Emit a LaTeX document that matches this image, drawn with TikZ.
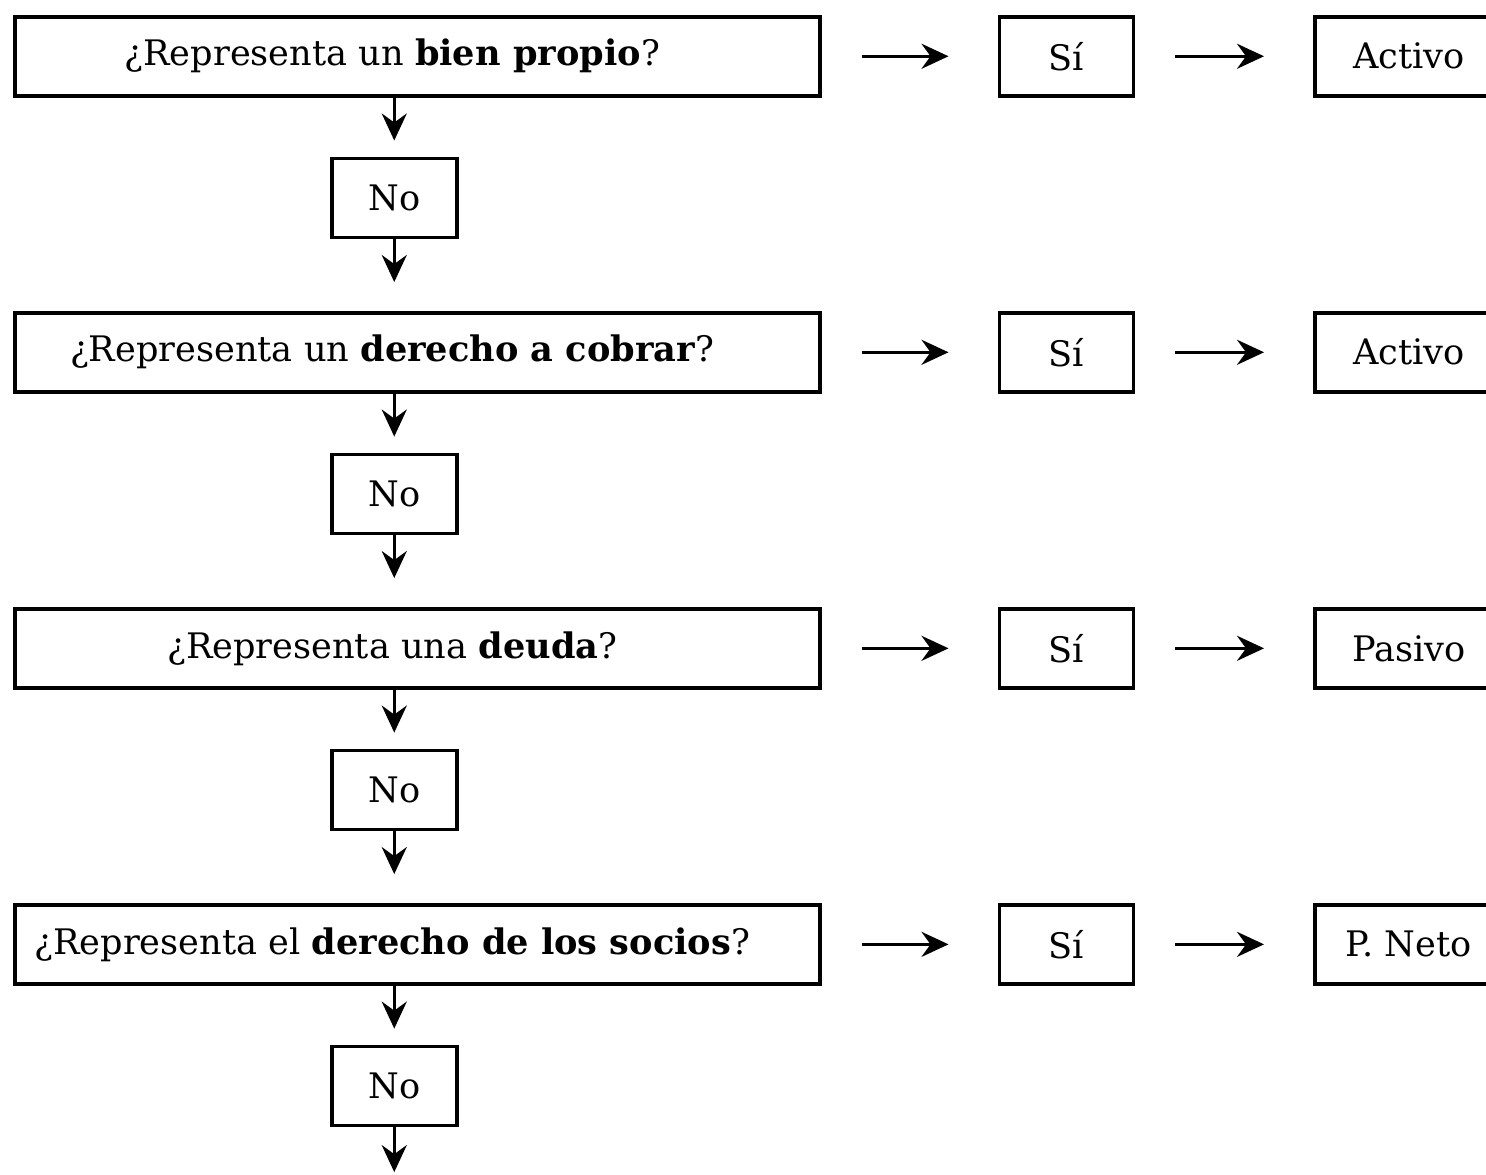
\documentclass[tikz,border=0pt]{standalone}
\usepackage{fontspec}
\setmainfont{DejaVu Serif}
\usetikzlibrary{arrows.meta,positioning}

\begin{document}
\begin{tikzpicture}[
    font=\fontsize{10}{12}\selectfont,
    >={Stealth[length=2.7mm,width=2.5mm,inset=0.9mm]},
    node distance=6mm,
    box/.style={draw, line width=1pt, inner sep=2pt, minimum height=7.9mm},
    qbox/.style={box, minimum width=80.5mm},
    ansbox/.style={box, minimum width=13.4mm},
    nobox/.style={box, minimum width=12.5mm},
    resbox/.style={box, minimum width=18.8mm},
    link/.style={->, line width=0.9pt},
    side/.style={link, shorten <=4mm, shorten >=4.9mm}
]
\useasboundingbox (0,0) rectangle (148.6mm,-117.4mm);

% --- row 1 ---
\node[qbox, anchor=north west] (q1) at (1.3mm,-1.5mm)
  {\hspace*{-5mm}¿Representa un \textbf{bien propio}?};
\node[ansbox, right=17.6mm of q1] (si1) {Sí};
\node[resbox, right=17.8mm of si1] (res1) {Activo};
\node[nobox, below=5.9mm of q1, xshift=-2.3mm] (no1) {No};

% --- row 2 ---
\node[qbox, below=7.2mm of no1, xshift=2.3mm] (q2)
  {\hspace*{-5mm}¿Representa un \textbf{derecho a cobrar}?};
\node[ansbox, right=17.6mm of q2] (si2) {Sí};
\node[resbox, right=17.8mm of si2] (res2) {Activo};
\node[nobox, below=5.9mm of q2, xshift=-2.3mm] (no2) {No};

% --- row 3 ---
\node[qbox, below=7.2mm of no2, xshift=2.3mm] (q3)
  {\hspace*{-5mm}¿Representa una \textbf{deuda}?};
\node[ansbox, right=17.6mm of q3] (si3) {Sí};
\node[resbox, right=17.8mm of si3] (res3) {Pasivo};
\node[nobox, below=5.9mm of q3, xshift=-2.3mm] (no3) {No};

% --- row 4 ---
\node[qbox, below=7.2mm of no3, xshift=2.3mm] (q4)
  {\hspace*{-5mm}¿Representa el \textbf{derecho de los socios}?};
\node[ansbox, right=17.6mm of q4] (si4) {Sí};
\node[resbox, right=17.8mm of si4] (res4) {P. Neto};
\node[nobox, below=5.9mm of q4, xshift=-2.3mm] (no4) {No};
\coordinate[below=4.5mm of no4] (end);

% --- arrows: yes branch ---
\draw[side] (q1) -- (si1);
\draw[side] (si1) -- (res1);
\draw[side] (q2) -- (si2);
\draw[side] (si2) -- (res2);
\draw[side] (q3) -- (si3);
\draw[side] (si3) -- (res3);
\draw[side] (q4) -- (si4);
\draw[side] (si4) -- (res4);

% --- arrows: no branch ---
\draw[link, shorten >=1.6mm] (q1.south -| no1) -- (no1);
\draw[link, shorten >=2.9mm] (no1) -- (no1 |- q2.north);
\draw[link, shorten >=1.6mm] (q2.south -| no2) -- (no2);
\draw[link, shorten >=2.9mm] (no2) -- (no2 |- q3.north);
\draw[link, shorten >=1.6mm] (q3.south -| no3) -- (no3);
\draw[link, shorten >=2.9mm] (no3) -- (no3 |- q4.north);
\draw[link, shorten >=1.6mm] (q4.south -| no4) -- (no4);
\draw[link] (no4) -- (end);

\end{tikzpicture}
\end{document}
